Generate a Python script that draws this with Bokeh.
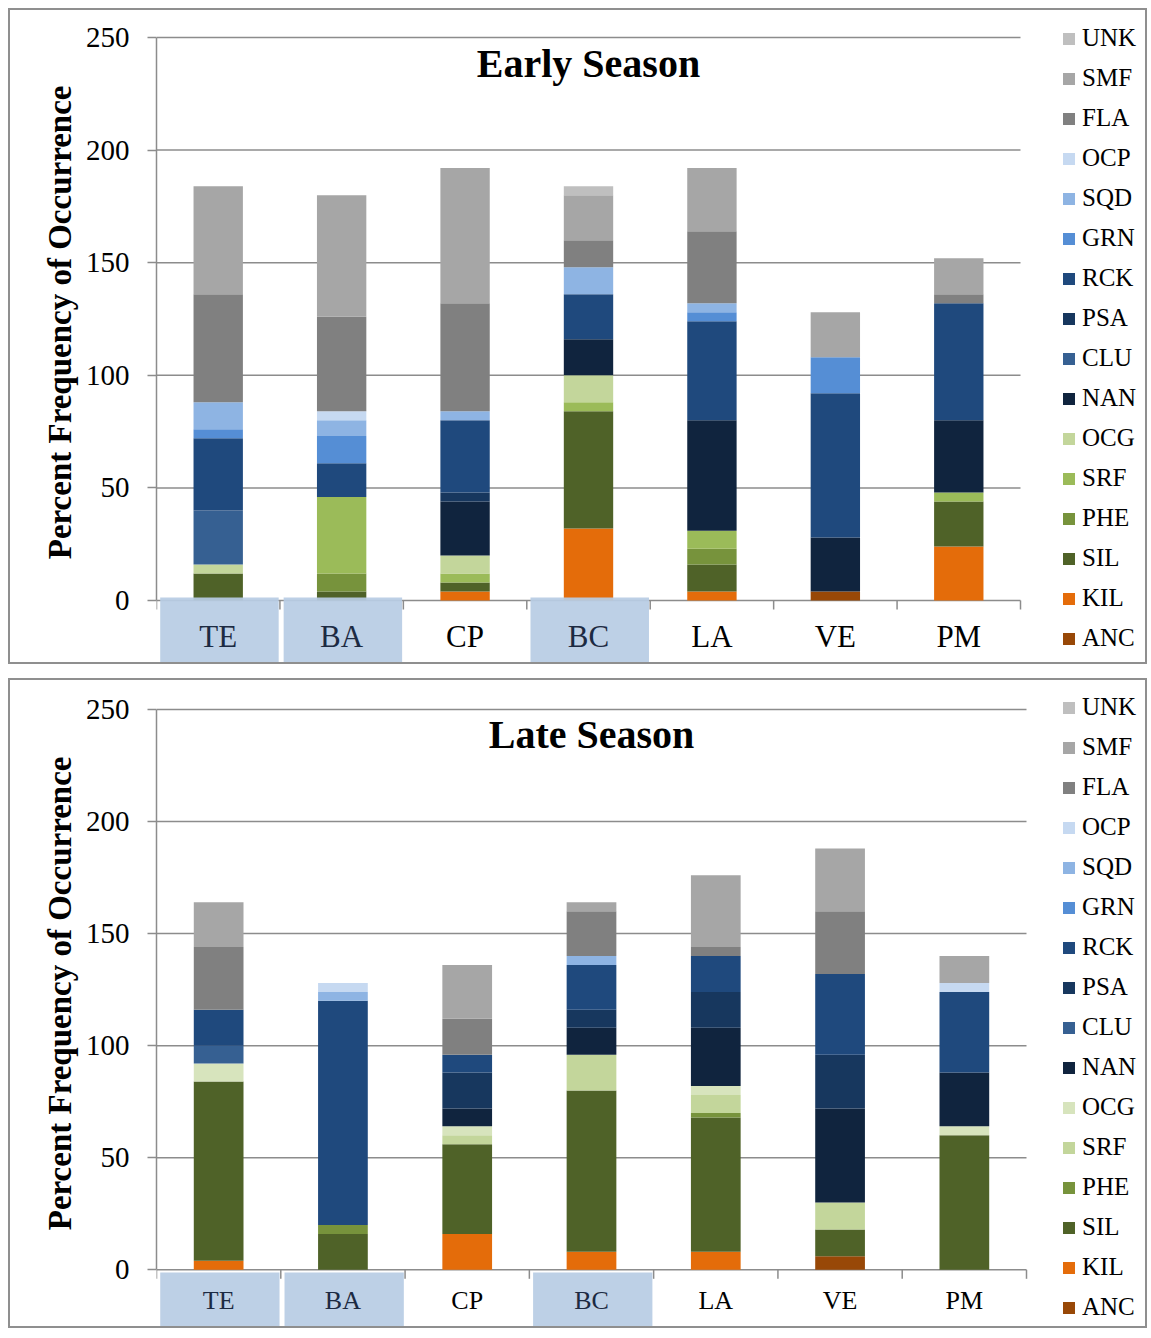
from bokeh.plotting import figure
from bokeh.models import Range1d, Legend, LegendItem, ColumnDataSource, FixedTicker, Label, Title
from bokeh.layouts import column
from bokeh.embed import file_html
from bokeh.resources import INLINE
from bokeh.core.properties import value

FONT = "Liberation Serif"
GRID = "#8c8c8c"

categories = ["TE", "BA", "CP", "BC", "LA", "VE", "PM"]
highlighted = ["TE", "BA", "BC"]
# stack order, bottom to top
species = ["ANC", "KIL", "SIL", "PHE", "SRF", "OCG", "NAN", "CLU",
           "PSA", "RCK", "GRN", "SQD", "OCP", "FLA", "SMF", "UNK"]
y_ticks = [0, 50, 100, 150, 200, 250]

# ---- Early season (TE, BA, CP, BC, LA, VE, PM) ----
early_ANC = [0, 0, 0, 0, 0, 4, 0]
early_KIL = [0, 0, 4, 32, 4, 0, 24]
early_SIL = [12, 4, 4, 52, 12, 0, 20]
early_PHE = [0, 8, 0, 0, 7, 0, 0]
early_SRF = [0, 34, 4, 4, 8, 0, 4]
early_OCG = [4, 0, 8, 12, 0, 0, 0]
early_NAN = [0, 0, 24, 16, 49, 24, 32]
early_CLU = [24, 0, 0, 0, 0, 0, 0]
early_PSA = [0, 0, 4, 0, 0, 0, 0]
early_RCK = [32, 15, 32, 20, 44, 64, 52]
early_GRN = [4, 12, 0, 0, 4, 16, 0]
early_SQD = [12, 7, 4, 12, 4, 0, 0]
early_OCP = [0, 4, 0, 0, 0, 0, 0]
early_FLA = [48, 42, 48, 12, 32, 0, 4]
early_SMF = [48, 54, 60, 20, 28, 20, 16]
early_UNK = [0, 0, 0, 4, 0, 0, 0]

# ---- Late season ----
late_ANC = [0, 0, 0, 0, 0, 6, 0]
late_KIL = [4, 0, 16, 8, 8, 0, 0]
late_SIL = [80, 16, 40, 72, 60, 12, 60]
late_PHE = [0, 4, 0, 0, 2, 0, 0]
late_SRF = [0, 0, 4, 16, 8, 12, 0]
late_OCG = [8, 0, 4, 0, 4, 0, 4]
late_NAN = [0, 0, 8, 12, 26, 42, 24]
late_CLU = [8, 0, 0, 0, 0, 0, 0]
late_PSA = [0, 0, 16, 8, 16, 24, 0]
late_RCK = [16, 100, 8, 20, 16, 36, 36]
late_GRN = [0, 0, 0, 0, 0, 0, 0]
late_SQD = [0, 4, 0, 4, 0, 0, 0]
late_OCP = [0, 4, 0, 0, 0, 0, 4]
late_FLA = [28, 0, 16, 20, 4, 28, 0]
late_SMF = [20, 0, 24, 4, 32, 28, 12]
late_UNK = [0, 0, 0, 0, 0, 0, 0]

early_values = {s: globals()["early_" + s] for s in species}
late_values = {s: globals()["late_" + s] for s in species}

early_colors = ["#984807", "#e46c0a", "#4f6228", "#77933c", "#9bbb59", "#c3d69b",
                "#10243e", "#366092", "#17375e", "#1f497d", "#558ed5", "#8eb4e3",
                "#c6d9f1", "#808080", "#a6a6a6", "#bfbfbf"]
late_colors = ["#984807", "#e46c0a", "#4f6228", "#77933c", "#c3d69b", "#d7e4bd",
               "#10243e", "#366092", "#17375e", "#1f497d", "#558ed5", "#8eb4e3",
               "#c6d9f1", "#808080", "#a6a6a6", "#bfbfbf"]

CANVAS_LEFT = 10
CANVAS_W = 1139


def make_panel(title, values, colors, canvas_top, canvas_h, frame_top, axis_x, axis_end,
               y0_px, y250_px, cat_font, label_y_px, box_top_px, legend_first_center,
               title_y_px, ylabel_top_px):
    n = len(categories)
    ppu = (y0_px - y250_px) / 250.0
    canvas_bottom = canvas_top + canvas_h
    canvas_right = CANVAS_LEFT + CANVAS_W
    y_start = -(canvas_bottom - y0_px) / ppu
    y_end = 250 + (y250_px - frame_top) / ppu
    x_end = n * (canvas_right - axis_x) / (axis_end - axis_x)
    to_val = lambda py: (y0_px - py) / ppu

    p = figure(width=CANVAS_W, height=canvas_h,
               x_range=Range1d(0, x_end), y_range=Range1d(y_start, y_end),
               output_backend="svg", toolbar_location=None, x_axis_location=None,
               min_border_left=int(round(axis_x - CANVAS_LEFT)),
               min_border_right=0,
               min_border_top=int(round(frame_top - canvas_top)),
               min_border_bottom=0,
               background_fill_color="white", border_fill_color="white",
               outline_line_color=None)
    p.styles = {"border": "2px solid #8f8f8f"}

    ticker = FixedTicker(ticks=y_ticks)
    p.yaxis.ticker = ticker
    p.yaxis.bounds = (0, 250)
    p.yaxis.axis_line_color = GRID
    p.yaxis.axis_line_width = 1.5
    p.yaxis.major_tick_line_color = GRID
    p.yaxis.major_tick_line_width = 1.5
    p.yaxis.major_tick_out = 9
    p.yaxis.major_tick_in = 0
    p.yaxis.minor_tick_line_color = None
    p.yaxis.major_label_text_font = FONT
    p.yaxis.major_label_text_font_size = "29px"
    p.yaxis.major_label_text_color = "black"
    p.yaxis.major_label_standoff = 18
    p.ygrid.visible = False
    p.xgrid.visible = False

    p.add_layout(Title(text="Percent Frequency of Occurrence", align="right",
                       offset=int(round(ylabel_top_px - frame_top)),
                       text_font=FONT, text_font_style="bold", text_font_size="33px",
                       text_color="black", standoff=10), "left")

    # horizontal gridlines across the category span
    p.segment(x0=[0] * len(y_ticks), y0=y_ticks, x1=[n] * len(y_ticks), y1=y_ticks,
              line_color=GRID, line_width=1.5)
    # x-axis tick marks at category boundaries
    tick_len = 9 / ppu
    bounds = list(range(n + 1))
    p.segment(x0=bounds, y0=[0] * len(bounds), x1=bounds, y1=[-tick_len] * len(bounds),
              line_color=GRID, line_width=1.5)

    src = ColumnDataSource(dict(x=[i + 0.5 for i in range(n)], **values))
    rs = p.vbar_stack(species, x="x", width=0.4, fill_color=colors, line_color=None, source=src)

    hx = [categories.index(c) for c in highlighted]
    p.quad(left=[i + 0.03 for i in hx], right=[i + 0.99 for i in hx],
           top=[to_val(box_top_px)] * len(hx), bottom=[y_start] * len(hx),
           fill_color="#b8cce4", fill_alpha=0.93, line_color=None)

    lab = ColumnDataSource(dict(
        x=[i + 0.5 for i in range(n)],
        y=[to_val(label_y_px)] * n,
        text=categories,
        color=["#1c2a42" if c in highlighted else "black" for c in categories]))
    p.text(x="x", y="y", text="text", text_color="color", text_font=value(FONT),
           text_font_size=cat_font, text_align="center", text_baseline="middle", source=lab)

    p.add_layout(Label(x=n / 2, y=to_val(title_y_px), text=title, text_font=FONT,
                       text_font_style="bold", text_font_size="40px", text_color="black",
                       text_align="center", text_baseline="middle"))

    items = [LegendItem(label=s, renderers=[r]) for s, r in zip(species, rs)][::-1]
    step = 40
    leg_top = legend_first_center - step / 2
    leg_bottom = leg_top + step * len(species)
    leg = Legend(items=items,
                 location=(1061 - axis_x, canvas_bottom - leg_bottom),
                 glyph_width=15, glyph_height=15, label_height=step, spacing=0,
                 padding=0, margin=0, label_standoff=6,
                 label_text_font=FONT, label_text_font_size="25px",
                 label_text_color="black",
                 border_line_color=None, background_fill_alpha=0)
    p.add_layout(leg)
    return p


p1 = make_panel("Early Season", early_values, early_colors,
                canvas_top=10, canvas_h=656, frame_top=16, axis_x=156, axis_end=1020,
                y0_px=600, y250_px=37, cat_font="31px", label_y_px=636, box_top_px=597,
                legend_first_center=38, title_y_px=63, ylabel_top_px=85)
p2 = make_panel("Late Season", late_values, late_colors,
                canvas_top=684, canvas_h=650, frame_top=690, axis_x=156, axis_end=1026,
                y0_px=1273.3, y250_px=713, cat_font="26px", label_y_px=1304, box_top_px=1276,
                legend_first_center=711, title_y_px=738, ylabel_top_px=760)

layout = column(p1, p2, spacing=14, margin=(8, 0, 0, 8))
open("out.html", "w").write(file_html(layout, INLINE))
